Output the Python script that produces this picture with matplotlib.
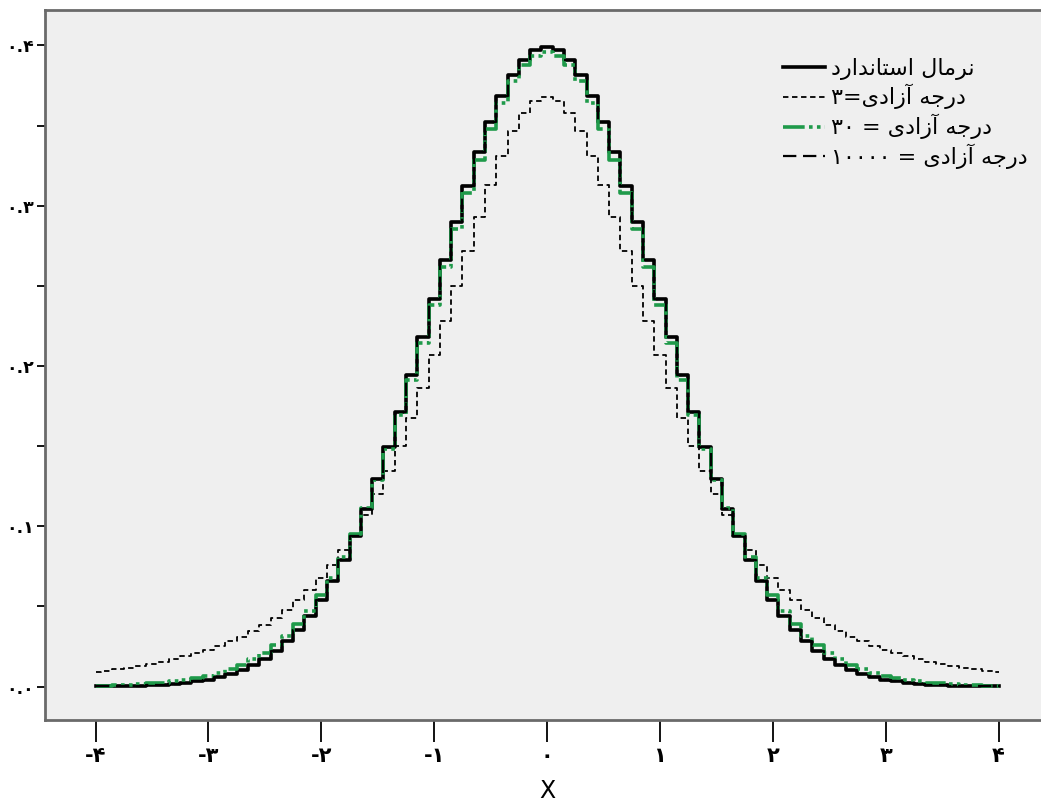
import matplotlib
matplotlib.use("Agg")
import matplotlib.pyplot as plt
from matplotlib.ticker import FixedLocator

plt.rcParams['font.family'] = ['DejaVu Sans']

x_values = [-4.0, -3.9, -3.8, -3.7, -3.6, -3.5, -3.4, -3.3, -3.2, -3.1,
            -3.0, -2.9, -2.8, -2.7, -2.6, -2.5, -2.4, -2.3, -2.2, -2.1,
            -2.0, -1.9, -1.8, -1.7, -1.6, -1.5, -1.4, -1.3, -1.2, -1.1,
            -1.0, -0.9, -0.8, -0.7, -0.6, -0.5, -0.4, -0.3, -0.2, -0.1,
            0.0, 0.1, 0.2, 0.3, 0.4, 0.5, 0.6, 0.7, 0.8, 0.9,
            1.0, 1.1, 1.2, 1.3, 1.4, 1.5, 1.6, 1.7, 1.8, 1.9,
            2.0, 2.1, 2.2, 2.3, 2.4, 2.5, 2.6, 2.7, 2.8, 2.9,
            3.0, 3.1, 3.2, 3.3, 3.4, 3.5, 3.6, 3.7, 3.8, 3.9, 4.0]

normal = [0.0001, 0.0002, 0.0003, 0.0004, 0.0006, 0.0009, 0.0012, 0.0017, 0.0024, 0.0033,
          0.0044, 0.0060, 0.0079, 0.0104, 0.0136, 0.0175, 0.0224, 0.0283, 0.0355, 0.0440,
          0.0540, 0.0656, 0.0790, 0.0940, 0.1109, 0.1295, 0.1497, 0.1714, 0.1942, 0.2179,
          0.2420, 0.2661, 0.2897, 0.3123, 0.3332, 0.3521, 0.3683, 0.3814, 0.3910, 0.3970,
          0.3989, 0.3970, 0.3910, 0.3814, 0.3683, 0.3521, 0.3332, 0.3123, 0.2897, 0.2661,
          0.2420, 0.2179, 0.1942, 0.1714, 0.1497, 0.1295, 0.1109, 0.0940, 0.0790, 0.0656,
          0.0540, 0.0440, 0.0355, 0.0283, 0.0224, 0.0175, 0.0136, 0.0104, 0.0079, 0.0060,
          0.0044, 0.0033, 0.0024, 0.0017, 0.0012, 0.0009, 0.0006, 0.0004, 0.0003, 0.0002, 0.0001]

t_df3 = [0.0092, 0.0100, 0.0109, 0.0119, 0.0130, 0.0142, 0.0156, 0.0172, 0.0189, 0.0208,
         0.0230, 0.0254, 0.0282, 0.0312, 0.0347, 0.0387, 0.0431, 0.0481, 0.0538, 0.0603,
         0.0675, 0.0757, 0.0850, 0.0954, 0.1070, 0.1200, 0.1345, 0.1504, 0.1678, 0.1866,
         0.2068, 0.2279, 0.2497, 0.2716, 0.2930, 0.3132, 0.3313, 0.3465, 0.3580, 0.3651,
         0.3676, 0.3651, 0.3580, 0.3465, 0.3313, 0.3132, 0.2930, 0.2716, 0.2497, 0.2279,
         0.2068, 0.1866, 0.1678, 0.1504, 0.1345, 0.1200, 0.1070, 0.0954, 0.0850, 0.0757,
         0.0675, 0.0603, 0.0538, 0.0481, 0.0431, 0.0387, 0.0347, 0.0312, 0.0282, 0.0254,
         0.0230, 0.0208, 0.0189, 0.0172, 0.0156, 0.0142, 0.0130, 0.0119, 0.0109, 0.0100, 0.0092]

t_df30 = [0.0005, 0.0007, 0.0009, 0.0012, 0.0015, 0.0020, 0.0025, 0.0033, 0.0042, 0.0053,
          0.0068, 0.0086, 0.0108, 0.0136, 0.0170, 0.0211, 0.0260, 0.0319, 0.0390, 0.0472,
          0.0569, 0.0680, 0.0807, 0.0951, 0.1112, 0.1290, 0.1483, 0.1692, 0.1913, 0.2143,
          0.2380, 0.2618, 0.2852, 0.3078, 0.3288, 0.3479, 0.3643, 0.3777, 0.3875, 0.3936,
          0.3956, 0.3936, 0.3875, 0.3777, 0.3643, 0.3479, 0.3288, 0.3078, 0.2852, 0.2618,
          0.2380, 0.2143, 0.1913, 0.1692, 0.1483, 0.1290, 0.1112, 0.0951, 0.0807, 0.0680,
          0.0569, 0.0472, 0.0390, 0.0319, 0.0260, 0.0211, 0.0170, 0.0136, 0.0108, 0.0086,
          0.0068, 0.0053, 0.0042, 0.0033, 0.0025, 0.0020, 0.0015, 0.0012, 0.0009, 0.0007, 0.0005]

t_df10000 = [0.0001, 0.0002, 0.0003, 0.0004, 0.0006, 0.0009, 0.0012, 0.0017, 0.0024, 0.0033,
             0.0044, 0.0060, 0.0079, 0.0104, 0.0136, 0.0175, 0.0224, 0.0283, 0.0355, 0.0440,
             0.0540, 0.0656, 0.0790, 0.0940, 0.1109, 0.1295, 0.1497, 0.1714, 0.1942, 0.2179,
             0.2420, 0.2661, 0.2897, 0.3123, 0.3332, 0.3521, 0.3683, 0.3814, 0.3910, 0.3970,
             0.3989, 0.3970, 0.3910, 0.3814, 0.3683, 0.3521, 0.3332, 0.3123, 0.2897, 0.2661,
             0.2420, 0.2179, 0.1942, 0.1714, 0.1497, 0.1295, 0.1109, 0.0940, 0.0790, 0.0656,
             0.0540, 0.0440, 0.0355, 0.0283, 0.0224, 0.0175, 0.0136, 0.0104, 0.0079, 0.0060,
             0.0044, 0.0033, 0.0024, 0.0017, 0.0012, 0.0009, 0.0006, 0.0004, 0.0003, 0.0002, 0.0001]

x_ticks = [-4, -3, -2, -1, 0, 1, 2, 3, 4]
x_tick_labels = ["-۴", "-۳", "-۲", "-۱", "۰", "۱", "۲", "۳", "۴"]
y_ticks = [0.0, 0.1, 0.2, 0.3, 0.4]
y_minor_ticks = [0.05, 0.15, 0.25, 0.35]
y_tick_labels = ["۰.۰", "۰.۱", "۰.۲", "۰.۳", "۰.۴"]

# Persian labels, written in visual (left-to-right) order with contextual glyph forms
W_DARAJE = "\uFEEA\uFE9F\uFEAD\uFEA9"              # درجه
W_AZADI = "\uFEEF\uFEA9\uFE8D\uFEAF\uFE81"         # آزادی
W_NORMAL = "\uFEDD\uFE8E\uFEE3\uFEAE\uFEE7"        # نرمال
W_STANDARD = "\uFEA9\uFEAD\uFE8D\uFEAA\uFEE7\uFE8E\uFE98\uFEB3\uFE8D"  # استاندارد
legend_labels = [
    W_STANDARD + " " + W_NORMAL,
    "۳=" + W_AZADI + " " + W_DARAJE,
    "۳۰ = " + W_AZADI + " " + W_DARAJE,
    "۱۰۰۰۰ = " + W_AZADI + " " + W_DARAJE,
]

fig = plt.figure(figsize=(10.41, 8.05), dpi=100)
ax = fig.add_axes([0.043, 0.106, 0.965, 0.882])
ax.set_facecolor("#efefef")

green = "#1f9a4a"
l1, = ax.plot(x_values, normal, drawstyle="steps-mid", color="black", lw=2.6, zorder=3)
l2, = ax.plot(x_values, t_df3, drawstyle="steps-mid", color="black", lw=1.3,
              linestyle=(0, (3, 2)), zorder=3)
l3, = ax.plot(x_values, t_df30, drawstyle="steps-mid", color=green, lw=2.6,
              linestyle=(0, (6, 1.2, 1, 1.2, 1, 1.2, 1, 1.2)), zorder=4)
l4, = ax.plot(x_values, t_df10000, drawstyle="steps-mid", color="black", lw=1.6,
              linestyle=(0, (6, 3)), zorder=5)

ax.set_xlim(-4.45, 4.45)
ax.set_ylim(-0.0206, 0.4223)

ax.set_xticks(x_ticks)
ax.set_xticklabels(x_tick_labels, fontsize=15, fontweight="bold")
ax.set_yticks(y_ticks)
ax.set_yticklabels(y_tick_labels, fontsize=12.5, fontweight="bold")
ax.yaxis.set_minor_locator(FixedLocator(y_minor_ticks))

ax.tick_params(axis="x", length=16, width=1.3, pad=3, colors="black")
ax.tick_params(axis="y", which="both", length=6, width=1.3, pad=2, colors="black")

for s in ["left", "top", "bottom", "right"]:
    ax.spines[s].set_color("#6a6a6a")
    ax.spines[s].set_linewidth(2)

ax.set_xlabel("X", fontsize=17, labelpad=9)

leg = ax.legend([l1, l2, l3, l4], legend_labels, loc="upper right",
                bbox_to_anchor=(1.0, 0.945), bbox_transform=fig.transFigure,
                frameon=False, fontsize=16, handlelength=1.9, handletextpad=0.25,
                labelspacing=0.2, borderpad=0.1)

fig.savefig("out.png", dpi=100)
